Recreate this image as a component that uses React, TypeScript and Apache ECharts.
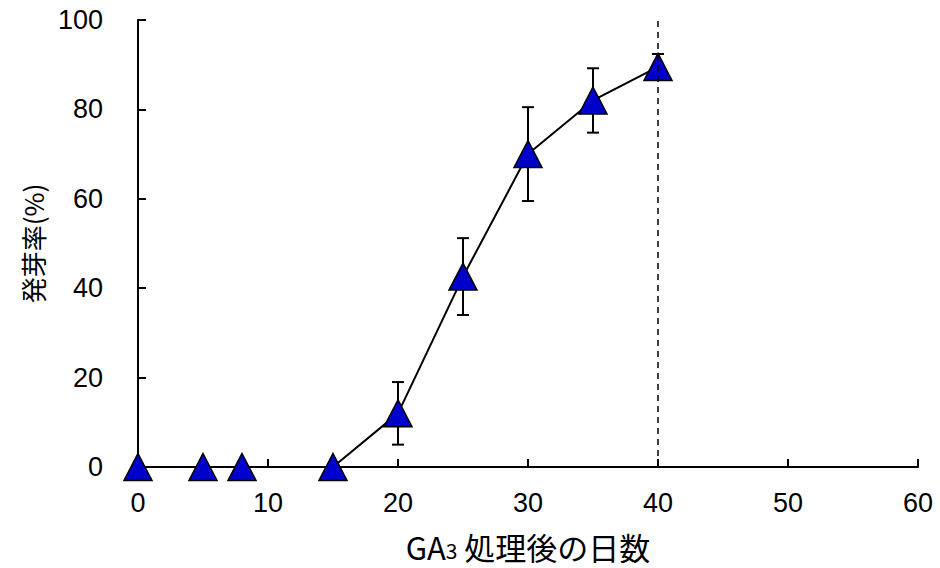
import React, { useEffect, useRef } from "react";
import * as echarts from "echarts";

const days = [0, 5, 8, 15, 20, 25, 30, 35, 40];
const rates = [0, 0, 0, 0, 12, 42.6, 70, 82, 89.5];
const errors = [0, 0, 0, 0, 7, 8.6, 10.5, 7.2, 2.9];
const xTicks = [0, 10, 20, 30, 40, 50, 60];
const yTicks = [0, 20, 40, 60, 80, 100];
const markDay = 40;

export default function App() {
  const ref = useRef<HTMLDivElement>(null);
  useEffect(() => {
    if (!ref.current) return;
    const chart = echarts.init(ref.current, null, { renderer: "svg" });
    const numFont = "'Liberation Sans', Arial, sans-serif";
    const jpFont = "'Noto Sans CJK JP', sans-serif";
    const points = days.map((d, i) => [d, rates[i]]);
    const errData = days
      .map((d, i) => [d, rates[i] - errors[i], rates[i] + errors[i]])
      .filter((_, i) => errors[i] > 0);
    chart.setOption({
      animation: false,
      backgroundColor: "#ffffff",
      grid: { left: 138, right: 22, top: 20, bottom: 101 },
      xAxis: {
        type: "value",
        min: xTicks[0],
        max: xTicks[xTicks.length - 1],
        interval: 10,
        axisLine: { lineStyle: { color: "#000", width: 2 } },
        axisTick: { inside: true, length: 8, lineStyle: { color: "#000", width: 2 } },
        axisLabel: { color: "#000", fontSize: 27, fontFamily: numFont, margin: 22 },
        splitLine: { show: false },
        name: "{a|GA}{b|3}{a| 処理後の日数}",
        nameLocation: "middle",
        nameGap: 64,
        nameTextStyle: {
          rich: {
            a: { fontSize: 31, fontFamily: jpFont, color: "#000" },
            b: { fontSize: 21, fontFamily: jpFont, color: "#000", padding: [8, 0, 0, 0] },
          },
        },
      },
      yAxis: {
        type: "value",
        min: yTicks[0],
        max: yTicks[yTicks.length - 1],
        interval: 20,
        axisLine: { show: true, lineStyle: { color: "#000", width: 2 } },
        axisTick: { show: true, inside: true, length: 8, lineStyle: { color: "#000", width: 2 } },
        axisLabel: { color: "#000", fontSize: 27, fontFamily: numFont, margin: 35 },
        splitLine: { show: false },
        name: "発芽率(%)",
        nameLocation: "middle",
        nameGap: 93,
        nameRotate: 90,
        nameTextStyle: { fontSize: 26, fontFamily: jpFont, color: "#000" },
      },
      series: [
        {
          type: "custom",
          z: 1,
          data: errData,
          renderItem: (params: any, api: any) => {
            const x = api.coord([api.value(0), api.value(1)]);
            const top = api.coord([api.value(0), api.value(2)]);
            const hw = 6;
            const style = { stroke: "#000", lineWidth: 2 };
            return {
              type: "group",
              children: [
                { type: "line", shape: { x1: x[0], y1: x[1], x2: top[0], y2: top[1] }, style },
                { type: "line", shape: { x1: x[0] - hw, y1: x[1], x2: x[0] + hw, y2: x[1] }, style },
                { type: "line", shape: { x1: top[0] - hw, y1: top[1], x2: top[0] + hw, y2: top[1] }, style },
              ],
            };
          },
        },
        {
          type: "line",
          z: 2,
          data: points,
          symbol: "triangle",
          symbolSize: [28, 27],
          showAllSymbol: true,
          lineStyle: { color: "#000", width: 2 },
          itemStyle: { color: "#0000cc", borderColor: "#000", borderWidth: 1.5 },
          markLine: {
            silent: true,
            symbol: ["none", "none"],
            label: { show: false },
            z: 5,
            lineStyle: { color: "#000", type: [6, 5], width: 1.5 },
            data: [{ xAxis: markDay }],
          },
        },
      ],
    });
    return () => chart.dispose();
  }, []);
  return <div ref={ref} style={{ width: 940, height: 568, position: "absolute", left: 0, top: 0 }} />;
}
